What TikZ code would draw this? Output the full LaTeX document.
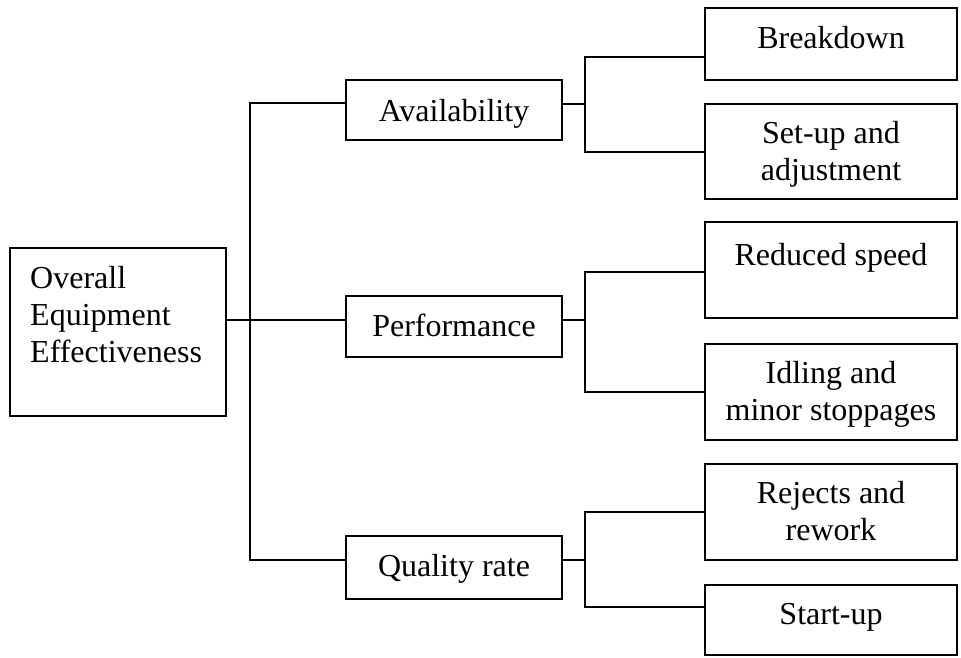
\documentclass[tikz,border=0pt]{standalone}
\usepackage{fontspec}
\setmainfont{Liberation Serif}
\begin{document}
\begin{tikzpicture}[x=1pt,y=-1pt,
  box/.style={draw, line width=1.8pt, inner sep=0pt},
  lbl/.style={anchor=base, inner sep=0pt, font=\fontsize{32}{37}\selectfont},
  wire/.style={line width=1.8pt}]
\useasboundingbox (0,0) rectangle (961,658);
% boxes
\node[box, minimum width=216pt, minimum height=168pt] (root) at (118,332) {};
\node[box, minimum width=216pt, minimum height=60pt] (av) at (454,110) {};
\node[box, minimum width=216pt, minimum height=61pt] (pf) at (454,326.5) {};
\node[box, minimum width=216pt, minimum height=63pt] (qr) at (454,567.5) {};
\node[box, minimum width=252pt, minimum height=72pt] (bd) at (831,44) {};
\node[box, minimum width=252pt, minimum height=95pt] (su) at (831,151.5) {};
\node[box, minimum width=252pt, minimum height=96pt] (rs) at (831,270) {};
\node[box, minimum width=252pt, minimum height=96pt] (id) at (831,392) {};
\node[box, minimum width=252pt, minimum height=96pt] (rj) at (831,512) {};
\node[box, minimum width=252pt, minimum height=70pt] (st) at (831,620) {};
% texts
\node[lbl, anchor=base west] (t1) at (30,288) {Overall};
\node[lbl, anchor=base west] (t2) at (30,325) {Equipment};
\node[lbl, anchor=base west] (t3) at (30,362) {Effectiveness};
\node[lbl] (t4) at (454,122) {Availability};
\node[lbl] (t5) at (454,336) {Performance};
\node[lbl] (t6) at (454,576) {Quality rate};
\node[lbl] (t7) at (831,49) {Breakdown};
\node[lbl] (t8) at (831,144) {Set-up and};
\node[lbl] (t9) at (831,180) {adjustment};
\node[lbl] (t10) at (831,265) {Reduced speed};
\node[lbl] (t11) at (831,383) {Idling and};
\node[lbl] (t12) at (831,420) {minor stoppages};
\node[lbl] (t13) at (831,503) {Rejects and};
\node[lbl] (t14) at (831,540) {rework};
\node[lbl] (t15) at (831,624) {Start-up};
% junctions
\coordinate (j1) at (250,103);
\coordinate (j2) at (250,320);
\coordinate (j3) at (250,560);
\coordinate (a0) at (585,104);
\coordinate (a1) at (585,57);
\coordinate (a2) at (585,152);
\coordinate (p0) at (585,320);
\coordinate (p1) at (585,272);
\coordinate (p2) at (585,392);
\coordinate (q0) at (585,560);
\coordinate (q1) at (585,512);
\coordinate (q2) at (585,607);
% connectors
\draw[wire] (root.east |- j2) -- (pf.west |- j2);
\draw[wire] (av.west |- j1) -- (j1) -- (j3) -- (qr.west |- j3);
\draw[wire] (av.east |- a0) -- (a0);
\draw[wire] (bd.west |- a1) -- (a1) -- (a2) -- (su.west |- a2);
\draw[wire] (pf.east |- p0) -- (p0);
\draw[wire] (rs.west |- p1) -- (p1) -- (p2) -- (id.west |- p2);
\draw[wire] (qr.east |- q0) -- (q0);
\draw[wire] (rj.west |- q1) -- (q1) -- (q2) -- (st.west |- q2);
\end{tikzpicture}
\end{document}
